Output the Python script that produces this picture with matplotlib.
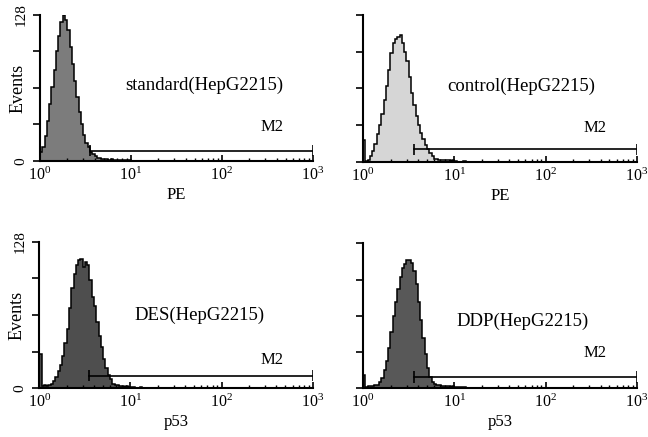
import numpy as np
import matplotlib

matplotlib.use("Agg")
import matplotlib.pyplot as plt
from matplotlib.ticker import LogFormatterMathtext, LogLocator, FixedLocator, FixedFormatter

plt.rcParams["font.family"] = ["Liberation Serif", "DejaVu Serif"]
plt.rcParams["mathtext.fontset"] = "stix"

# histogram channel counts, bins of 1/40 decade starting at 10^0
BIN_LOG = 0.025

standard_counts = [8, 12, 22, 35, 50, 65, 80, 96, 110, 122, 128, 124, 115, 100, 85,
                   70, 56, 43, 32, 23, 16, 12, 8, 6, 4, 3, 3, 2, 2, 2, 1, 2, 1, 1,
                   1, 1, 1, 1, 1, 1, 0, 0, 0, 0, 0]
control_counts = [19, 1, 2, 5, 10, 16, 24, 32, 42, 54, 66, 80, 95, 104, 107,
                  109, 111, 104, 96, 88, 74, 60, 50, 40, 32, 25, 20, 15, 11, 8,
                  5, 3, 3, 2, 2, 2, 2, 2, 1, 2, 1, 0, 0, 0, 1]
des_counts = [30, 2, 3, 2, 3, 4, 6, 10, 15, 20, 28, 40, 52, 70, 88, 100, 108,
              112, 113, 106, 110, 108, 95, 80, 72, 58, 46, 36, 26, 18, 12, 8,
              4, 3, 3, 2, 2, 1, 2, 1, 1, 1, 0, 0, 1]
ddp_counts = [12, 1, 2, 2, 2, 3, 3, 6, 9, 16, 24, 36, 50, 64, 76, 88, 98, 106,
              110, 113, 113, 111, 104, 92, 76, 60, 44, 30, 18, 10, 6, 4, 3, 3,
              2, 2, 2, 2, 1, 2, 1, 1, 1, 1, 1]

panel_names = ["standard(HepG2215)", "control(HepG2215)",
               "DES(HepG2215)", "DDP(HepG2215)"]
panel_xlabels = ["PE", "PE", "p53", "p53"]
panel_fills = ["#7c7c7c", "#d6d6d6", "#4e4e4e", "#585858"]

# M2 gate (start, end, height) and label positions
m2_start = [3.55, 3.6, 3.5, 3.6]
m2_end = [1000, 1000, 1000, 1000]
m2_level = [9, 11, 11, 10]
m2_text_xy = [(355, 30), (350, 30), (355, 25), (350, 31)]
name_xy = [(64, 66), (54, 66), (57, 64), (56, 59)]

axes_rects = [
    [0.0617, 0.6316, 0.4213, 0.3341],
    [0.5602, 0.6293, 0.4228, 0.3364],
    [0.0607, 0.1114, 0.4219, 0.3355],
    [0.5602, 0.1114, 0.4228, 0.3318],
]

fig = plt.figure(figsize=(6.48, 4.37), dpi=100)
all_counts = [standard_counts, control_counts, des_counts, ddp_counts]

for i, counts in enumerate(all_counts):
    ax = fig.add_axes(axes_rects[i])
    edges = 10 ** (np.arange(len(counts) + 1) * BIN_LOG)
    ax.stairs(counts, edges, fill=True, color=panel_fills[i], zorder=1)
    ax.stairs(counts, edges, fill=False, color="black", linewidth=1.1, zorder=2)

    ax.plot([m2_start[i], m2_end[i]], [m2_level[i], m2_level[i]],
            color="black", linewidth=1.2, zorder=3)
    ax.vlines([m2_start[i], m2_end[i]], m2_level[i] - 5, m2_level[i] + 5,
              color="black", linewidth=1.2, zorder=3)
    ax.text(*m2_text_xy[i], "M2", ha="center", va="center", fontsize=12)
    ax.text(*name_xy[i], panel_names[i], ha="center", va="center", fontsize=13.5)

    ax.set_xscale("log")
    ax.set_xlim(1, 1000)
    ax.set_ylim(0, 128)
    for side in ("top", "right"):
        ax.spines[side].set_visible(False)
    ax.spines["left"].set_linewidth(1.5)
    ax.spines["bottom"].set_linewidth(1.5)

    ax.xaxis.set_major_locator(LogLocator(base=10, numticks=10))
    ax.xaxis.set_major_formatter(LogFormatterMathtext())
    ax.xaxis.set_minor_locator(LogLocator(base=10, subs=np.arange(2, 10), numticks=20))
    ax.tick_params(axis="x", which="major", direction="in", length=4, width=1.2,
                   labelsize=11.5, pad=4)
    ax.tick_params(axis="x", which="minor", direction="in", length=2.5, width=1)

    ax.yaxis.set_major_locator(FixedLocator([0, 32, 64, 96, 128]))
    ax.tick_params(axis="y", direction="out", length=5, width=1.2, labelsize=11, pad=4)
    if i % 2 == 0:
        ax.yaxis.set_major_formatter(FixedFormatter(["0", "", "", "", "128"]))
        for lab in ax.get_yticklabels():
            lab.set_rotation(90)
            lab.set_va("center")
        ax.set_ylabel("Events", fontsize=13)
        ax.yaxis.set_label_coords(-0.05, 0.5)
    else:
        ax.yaxis.set_major_formatter(FixedFormatter(["", "", "", "", ""]))
    ax.set_xlabel(panel_xlabels[i], fontsize=12, labelpad=2)

fig.savefig("out.png", dpi=100)
